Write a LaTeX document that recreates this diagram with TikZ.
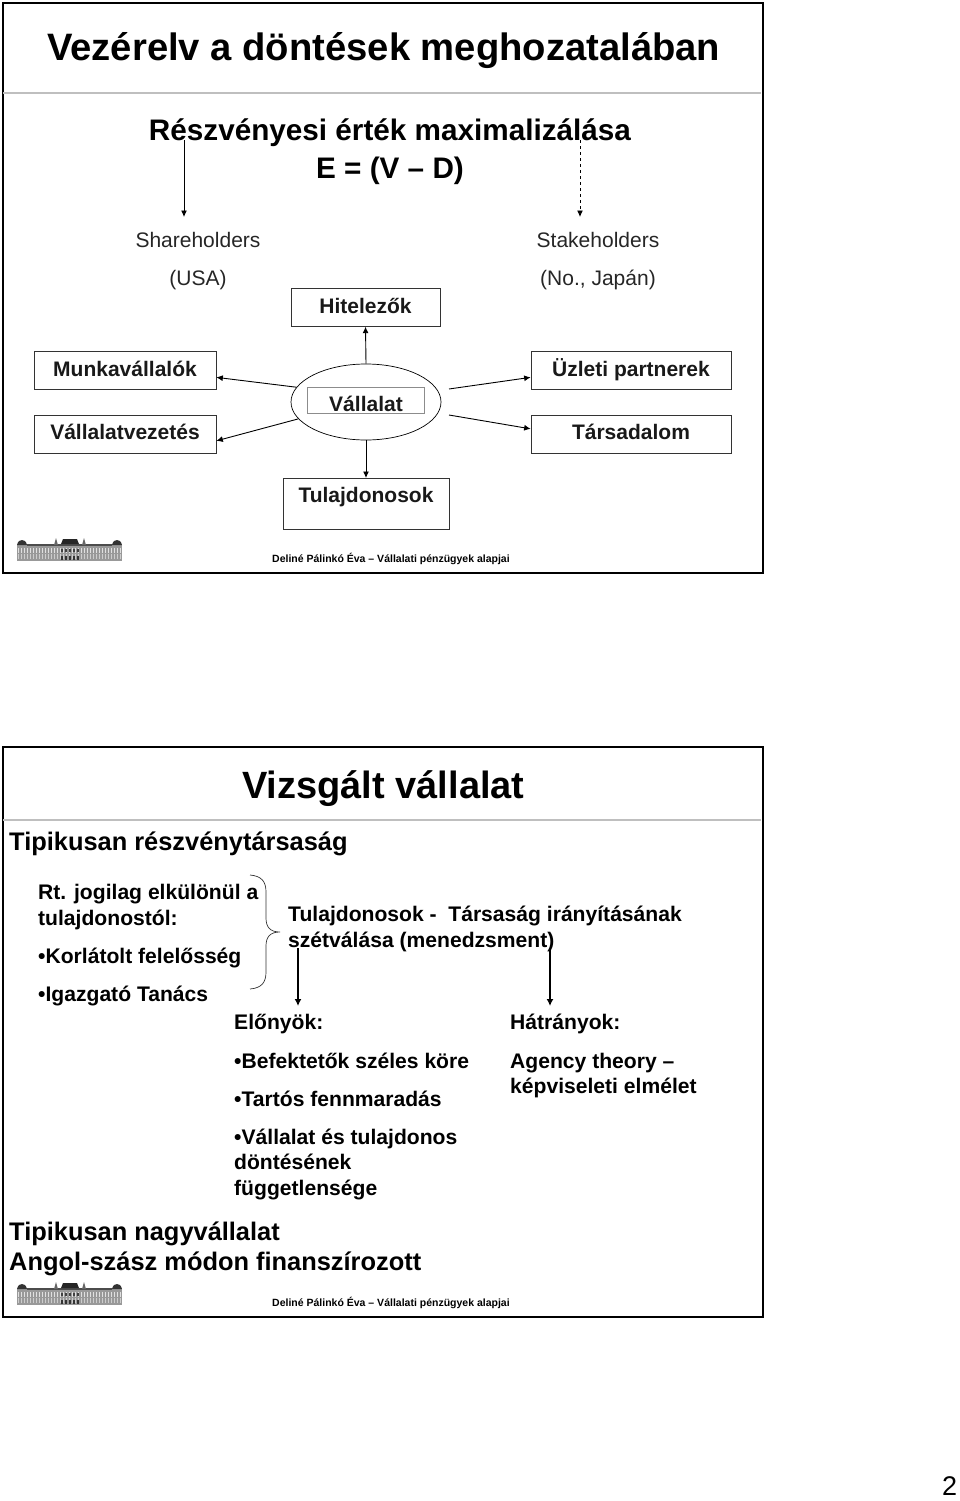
\documentclass[tikz,border=0pt]{standalone}
\usepackage{fontspec}
\setmainfont{Liberation Sans}
\usetikzlibrary{arrows.meta,positioning,shapes.geometric,calc}
\tikzset{
  slide/.style={draw,line width=2.2pt,minimum width=760pt,minimum height=570pt,anchor=north west,inner sep=0},
  headline/.style={line width=1.3pt,black!25},
  txt/.style={anchor=base west,inner sep=0,align=left,font=\fontsize{21.1}{25.5}\selectfont\bfseries},
  thin txt/.style={anchor=base,inner sep=0,font=\fontsize{21}{25}\selectfont,text=black!85},
  labelbox/.style={draw,line width=0.7pt,black!80,text=black!90,anchor=north,inner sep=0,text height=25pt,text depth=13pt,
    font=\fontsize{21}{25}\selectfont\bfseries},
  foot/.style={anchor=base west,inner sep=0,font=\fontsize{10.5}{12}\selectfont\bfseries},
  arr/.style={-{Latex[length=6.5pt,width=6pt]},line width=0.9pt},
  bigarr/.style={-{Latex[length=7pt,width=7pt]},line width=1.7pt},
  pics/logo/.style={code={
    \fill[black!40] (1,6) rectangle (106,23);
    \fill[black!80] (1,7) .. controls (2,3) and (4,2) .. (6,2) .. controls (8,2) and (10,3) .. (11,7) -- cycle;
    \fill[black!80] (96,7) .. controls (97,3) and (99,2) .. (101,2) .. controls (103,2) and (105,3) .. (106,7) -- cycle;
    \fill[black!70] (11,6) rectangle (96,8);
    \fill[black!85] (45,6) -- (47,1) -- (61,1) -- (63,6) -- cycle;
    \fill[black!60] (38,7) -- (40,0) -- (42,7) -- cycle;
    \fill[black!60] (66,7) -- (68,0) -- (70,7) -- cycle;
    \foreach \i in {2,5,...,104}{
      \fill[black!12] (\i,10) rectangle +(1.4,5);
      \fill[black!20] (\i,16) rectangle +(1.4,5);
    }
    \foreach \i in {45,49,...,61}{
      \fill[black!75] (\i,11) rectangle +(2.2,3);
      \fill[black!80] (\i,18) rectangle +(2.2,4);
    }
  }}
}

\begin{document}
\begin{tikzpicture}[x=1pt,y=-1pt]
  \useasboundingbox (0,0) rectangle (960,1501);
  \fill[white] (0,0) rectangle (960,1501);

  % first slide
  \node[slide] (slidea) at (2,2) {};
  \draw[headline] (3,93) -- (761,93);
  \node[txt,font=\fontsize{38.2}{42}\selectfont\bfseries] (title) at (47,61) {Vezérelv a döntések meghozatalában};
  \node[txt,anchor=base,font=\fontsize{29.7}{34}\selectfont\bfseries] (goal) at (390,141) {Részvényesi érték maximalizálása};
  \node[txt,anchor=base,font=\fontsize{29.7}{34}\selectfont\bfseries] (eq) at (390,178) {E = (V -- D)};

  \node[thin txt] (share) at (198,247) {Shareholders};
  \node[thin txt] (usa) at (198,285) {(USA)};
  \node[thin txt] (stake) at (598,247) {Stakeholders};
  \node[thin txt] (japan) at (598,285) {(No., Japán)};

  \coordinate (sa) at (184,140);
  \coordinate (sb) at (184,217);
  \coordinate (da) at (580,140);
  \coordinate (db) at (580,217);
  \draw[arr] (sa) -- (sb);
  \draw[arr,dashed] (da) -- (db);

  \node[labelbox,minimum width=149pt] (hitel) at (365.5,288) {Hitelezők};
  \node[labelbox,minimum width=182pt] (munka) at (125,351) {Munkavállalók};
  \node[labelbox,minimum width=182pt] (vezet) at (125,414.5) {Vállalatvezetés};
  \node[labelbox,minimum width=200pt] (uzlet) at (631,351) {Üzleti partnerek};
  \node[labelbox,minimum width=200pt] (tarsa) at (631,414.5) {Társadalom};
  \node[labelbox,minimum width=166pt,text depth=27pt,text height=24pt] (tulaj) at (366,478) {Tulajdonosok};

  \node[draw,ellipse,line width=0.7pt,minimum width=150pt,minimum height=76pt,inner sep=0] (firm) at (366,402) {};
  \node[labelbox,draw=black!45,line width=0.5pt,minimum width=117pt,text height=24pt,text depth=2pt] (firmtxt) at (366,387) {Vállalat};

  \coordinate (ra) at (449,389);
  \coordinate (rb) at (449,415);
  \draw[arr] (firm.north) -- (hitel.south);
  \draw[arr] (firm.south) -- (tulaj.north);
  \draw[arr] (firm.168) -- ([yshift=-7pt]munka.east);
  \draw[arr] (firm.194) -- ([yshift=-7pt]vezet.east);
  \draw[arr] (ra) -- ([yshift=-7pt]uzlet.west);
  \draw[arr] (rb) -- ([yshift=5pt]tarsa.west);

  \pic at (16,538) {logo};
  \node[foot] (fta) at (272,562) {Deliné Pálinkó Éva -- Vállalati pénzügyek alapjai};

  % second slide
  \node[slide] (slideb) at (2,746) {};
  \draw[headline] (3,820) -- (761,820);
  \node[txt,font=\fontsize{38}{42}\selectfont\bfseries] (vizsg) at (242,798) {Vizsgált vállalat};
  \node[txt,font=\fontsize{25.4}{30}\selectfont\bfseries] (tipa) at (9,850) {Tipikusan részvénytársaság};

  \node[txt] (rt) at (38,899) {Rt. jogilag elkülönül a};
  \node[txt] (rtb) at (38,925) {tulajdonostól:};
  \node[txt] (korl) at (38,963) {•Korlátolt felelősség};
  \node[txt] (igaz) at (38,1001) {•Igazgató Tanács};

  \coordinate (ba) at (250,875);
  \coordinate (bb) at (280,932);
  \coordinate (bc) at (250,989);
  \draw[line width=0.7pt,black!80] (ba) .. controls (262,876) and (266,882) .. (266,892)
    -- (266,918) .. controls (266,927) and (270,932) .. (bb)
    .. controls (270,932) and (266,937) .. (266,946)
    -- (266,972) .. controls (266,982) and (262,988) .. (bc);

  \node[txt] (own) at (288,921) {Tulajdonosok -\ \ Társaság irányításának};
  \node[txt] (ownb) at (288,947) {szétválása (menedzsment)};

  \coordinate (pa) at (298,948);
  \coordinate (pb) at (298,1006);
  \coordinate (ha) at (550,948);
  \coordinate (hb) at (550,1006);
  \draw[bigarr] (pa) -- (pb);
  \draw[bigarr] (ha) -- (hb);

  \node[txt] (pro) at (234,1029) {Előnyök:};
  \node[txt] (proa) at (234,1068) {•Befektetők széles köre};
  \node[txt] (prob) at (234,1106) {•Tartós fennmaradás};
  \node[txt] (proc) at (234,1144) {•Vállalat és tulajdonos};
  \node[txt] (procb) at (234,1169) {döntésének};
  \node[txt] (procc) at (234,1195) {függetlensége};

  \node[txt] (con) at (510,1029) {Hátrányok:};
  \node[txt] (cona) at (510,1068) {Agency theory --};
  \node[txt] (conb) at (510,1093) {képviseleti elmélet};

  \node[txt,font=\fontsize{25.4}{30}\selectfont\bfseries] (tipb) at (9,1240) {Tipikusan nagyvállalat};
  \node[txt,font=\fontsize{25.4}{30}\selectfont\bfseries] (angol) at (9,1270) {Angol-szász módon finanszírozott};

  \pic at (16,1282) {logo};
  \node[foot] (ftb) at (272,1306) {Deliné Pálinkó Éva -- Vállalati pénzügyek alapjai};

  \node[anchor=base west,inner sep=0,font=\fontsize{27}{30}\selectfont] (page) at (942,1495) {2};
\end{tikzpicture}
\end{document}
